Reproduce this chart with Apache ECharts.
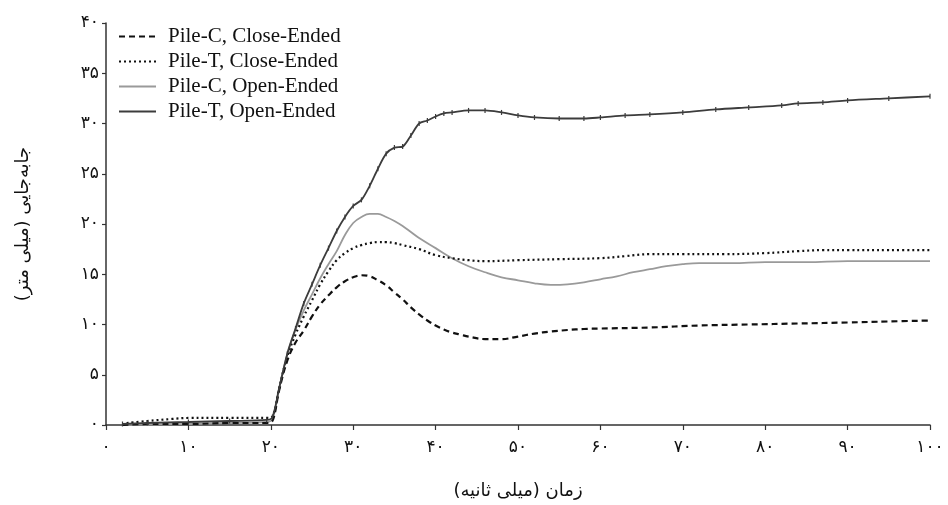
<!DOCTYPE html>
<html>
<head>
<meta charset="utf-8">
<script src="https://cdn.jsdelivr.net/npm/echarts@6/dist/echarts.min.js"></script>
<style>html,body{margin:0;padding:0;background:#fff}#c{width:948px;height:505px}</style>
</head>
<body>
<div id="c"></div>
<script>
// Persian tick digits
const persianDigits = ['۰','۱','۲','۳','۴','۵','۶','۷','۸','۹'];
const xTitle = 'زمان (میلی ثانیه)';
const yTitle = 'جابه‌جایی (میلی متر)';
const seriesNames = ['Pile-C, Close-Ended','Pile-T, Close-Ended','Pile-C, Open-Ended','Pile-T, Open-Ended'];

// Pile-C, Close-Ended (dashed)
const xCC = [2,5,10,15,19.8,20.3,21,22,23,24,25,26,27,28,29,30,31,32,33,34,35,36,37,38,39,40,41,42,43,44,46,48,50,52,54,56,58,60,66,72,78,84,90,95,100];
const yCC = [0,0.1,0.1,0.2,0.2,0.6,3.4,6.4,8.2,9.4,10.8,12.0,12.9,13.7,14.3,14.7,14.9,14.8,14.4,13.9,13.2,12.5,11.7,11.0,10.4,9.9,9.5,9.2,9.0,8.8,8.55,8.55,8.8,9.1,9.3,9.45,9.55,9.6,9.7,9.9,10.0,10.1,10.2,10.3,10.4];
// Pile-T, Close-Ended (dotted)
const xTC = [2.5,5,8,10,15,19.8,20.3,21,22,23,24,25,26,27,28,29,30,31,32,33,34,35,36,38,40,42,44,46,50,55,60,63,66,70,75,80,84,87,90,95,100];
const yTC = [0.2,0.4,0.6,0.7,0.7,0.7,1.0,3.6,6.8,9.0,10.8,12.4,14.0,15.3,16.4,17.1,17.6,17.9,18.1,18.2,18.2,18.1,17.9,17.5,16.9,16.6,16.4,16.3,16.4,16.5,16.6,16.8,17.0,17.0,17.0,17.1,17.3,17.4,17.4,17.4,17.4];
// Pile-C, Open-Ended (light grey)
const xCO = [2,5,10,15,19.5,20.2,21,22,23,24,25,26,27,28,29,30,31,32,33,34,35,36,37,38,40,42,44,46,48,50,52,54,56,58,60,62,64,66,68,70,72,76,80,85,90,95,100];
const yCO = [0,0.05,0.1,0.2,0.3,0.6,3.6,7.0,9.5,11.4,13.0,14.6,16.0,17.3,18.9,20.1,20.7,21.0,21.0,20.7,20.3,19.8,19.2,18.6,17.6,16.6,15.8,15.2,14.7,14.4,14.1,13.95,14.0,14.2,14.5,14.8,15.2,15.5,15.8,16.0,16.1,16.1,16.2,16.2,16.3,16.3,16.3];
// Pile-T, Open-Ended (dark grey)
const xTO = [2,5,10,15,19.5,20.2,21,22,23,24,25,26,27,28,29,30,31,32,33,34,35,36,37,38,39,40,41,42,44,46,48,50,52,55,58,60,63,66,70,74,78,82,84,87,90,95,100];
const yTO = [0.1,0.2,0.3,0.4,0.5,0.8,3.6,7.1,9.6,12.1,14.0,15.9,17.6,19.3,20.7,21.8,22.4,23.8,25.5,27.0,27.6,27.7,28.8,30.0,30.3,30.7,31.0,31.1,31.3,31.3,31.1,30.8,30.6,30.5,30.5,30.6,30.8,30.9,31.1,31.4,31.6,31.8,32.0,32.1,32.3,32.5,32.7];

function toPersian(v){ return String(v).split('').map(ch => /[0-9]/.test(ch) ? persianDigits[+ch] : ch).join(''); }
function pairs(xs, ys){ return xs.map((x,i)=>[x, ys[i]]); }

const chart = echarts.init(document.getElementById('c'), null, {renderer:'canvas'});
const labelFont = 'DejaVu Sans';
chart.setOption({
  animation:false,
  backgroundColor:'#fff',
  grid:{left:106, right:18, top:23, bottom:76},
  legend:{
    orient:'vertical', left:113, top:21, itemGap:4, itemWidth:37, itemHeight:14,
    textStyle:{fontFamily:'Liberation Serif', fontSize:21, color:'#111', padding:[0,0,0,7]},
    itemStyle:{opacity:0},
    data:seriesNames.map(n=>({name:n, itemStyle:{opacity:0}}))
  },
  xAxis:{
    type:'value', min:0, max:100, interval:10,
    axisLine:{show:true, lineStyle:{color:'#333', width:1.5}},
    axisTick:{show:true, length:5, lineStyle:{color:'#333', width:1.2}},
    splitLine:{show:false},
    axisLabel:{fontFamily:labelFont, fontSize:17, color:'#111', margin:14, formatter:v=>toPersian(v)},
    name:xTitle, nameLocation:'middle', nameGap:57,
    nameTextStyle:{fontFamily:labelFont, fontSize:18, color:'#111'}
  },
  yAxis:{
    type:'value', min:0, max:40, interval:5,
    axisLine:{show:true, lineStyle:{color:'#333', width:1.5}},
    axisTick:{show:true, length:4, lineStyle:{color:'#333', width:1.2}},
    splitLine:{show:false},
    axisLabel:{fontFamily:labelFont, fontSize:17, color:'#111', margin:7, formatter:v=>toPersian(v)},
    name:yTitle, nameLocation:'middle', nameGap:74, nameRotate:90,
    nameTextStyle:{fontFamily:labelFont, fontSize:18, color:'#111'}
  },
  series:[
    {name:seriesNames[0], type:'line', data:pairs(xCC,yCC), smooth:0.4, showSymbol:false, symbol:'none',
     lineStyle:{color:'#111', width:2.2, type:[6,4]}, itemStyle:{color:'#111'}, z:4},
    {name:seriesNames[1], type:'line', data:pairs(xTC,yTC), smooth:0.4, showSymbol:false, symbol:'none',
     lineStyle:{color:'#111', width:2.2, type:[2,3]}, itemStyle:{color:'#111'}, z:3},
    {name:seriesNames[2], type:'line', data:pairs(xCO,yCO), smooth:0.4, showSymbol:false, symbol:'none',
     lineStyle:{color:'#9a9a9a', width:1.8}, itemStyle:{color:'#9a9a9a'}, z:2},
    {name:seriesNames[3], type:'line', data:pairs(xTO,yTO), smooth:0.3, showSymbol:true, showAllSymbol:true,
     symbol:'rect', symbolSize:[1.2,5],
     lineStyle:{color:'#3c3c3c', width:1.8}, itemStyle:{color:'#3c3c3c'}, z:5}
  ]
});
</script>
</body>
</html>
